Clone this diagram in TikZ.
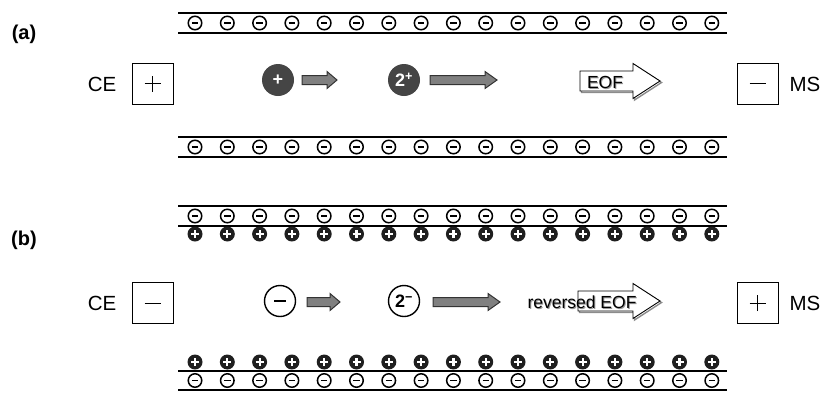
\documentclass[tikz,border=0pt]{standalone}
\usepackage{fontspec}
\setmainfont{Liberation Sans}
\usetikzlibrary{positioning}
\definecolor{iondark}{HTML}{454545}
\definecolor{arrowgray}{HTML}{808080}
% fat arrow: style, x start, x tip, y, shaft half, head half, head length
\newcommand{\fatarrow}[7]{%
  \draw[#1] (#2,#4-#5) -- (#3-#7,#4-#5) -- (#3-#7,#4-#6) -- (#3,#4)
    -- (#3-#7,#4+#6) -- (#3-#7,#4+#5) -- (#2,#4+#5) -- cycle;}
\tikzset{
  wall/.style={line width=2pt},
  negw/.style={circle, draw, line width=1.5pt, fill=white, minimum size=13.5pt, inner sep=0pt,
    path picture={\draw[line width=1.8pt] ([xshift=-3.2pt]path picture bounding box.center)
      -- ([xshift=3.2pt]path picture bounding box.center);}},
  posw/.style={circle, fill=black!88, minimum size=15pt, inner sep=0pt,
    path picture={\draw[white, line width=2.2pt]
      ([xshift=-4pt]path picture bounding box.center) -- ([xshift=4pt]path picture bounding box.center)
      ([yshift=-4pt]path picture bounding box.center) -- ([yshift=4pt]path picture bounding box.center);}},
  electrode/.style={draw, line width=0.9pt, minimum size=41pt, inner sep=0pt},
  elplus/.style={electrode, path picture={\draw[line width=1pt]
      ([xshift=-8pt]path picture bounding box.center) -- ([xshift=8pt]path picture bounding box.center)
      ([yshift=-8pt]path picture bounding box.center) -- ([yshift=8pt]path picture bounding box.center);}},
  elminus/.style={electrode, path picture={\draw[line width=1pt]
      ([xshift=-8pt]path picture bounding box.center) -- ([xshift=8pt]path picture bounding box.center);}},
  lbl/.style={font=\fontsize{20.5}{24}\selectfont, inner sep=0pt},
  panel/.style={font=\bfseries\fontsize{20}{24}\selectfont, inner sep=0pt},
  cation/.style={circle, fill=iondark, text=white, font=\bfseries\fontsize{18}{20}\selectfont,
    minimum size=32pt, inner sep=0pt},
  anion/.style={circle, draw, line width=1.4pt, fill=white, font=\bfseries\fontsize{18}{20}\selectfont,
    minimum size=31pt, inner sep=0pt},
  anbar/.style={anion, path picture={\draw[line width=2.4pt]
      ([xshift=-6pt]path picture bounding box.center) -- ([xshift=6pt]path picture bounding box.center);}},
  ionarrow/.style={fill=arrowgray, draw=black!80, line width=1pt},
  eof/.style={fill=white, draw=black, line width=0.9pt},
  eofshadow/.style={draw=black!45, line width=1.4pt},
  eoftext/.style={font=\fontsize{17.5}{20}\selectfont, inner sep=0pt}
}
\begin{document}
\begin{tikzpicture}[x=1pt, y=-1pt]
\useasboundingbox (0,0) rectangle (826,392);
% (a) walls
\draw[wall] (178,13) -- (727,13) (178,33) -- (727,33);
\draw[wall] (178,137) -- (727,137) (178,157) -- (727,157);
\foreach \i in {0,...,16} {
  \node[negw] (at\i) at (195+32.3*\i,23) {};
  \node[negw] (ab\i) at (195+32.3*\i,147) {};
}
\node[panel] (pa) at (24,34) {(a)};
\node[lbl] (cea) at (102,84) {CE};
\node[elplus] (ela) at (152.5,83.5) {};
\node[lbl] (msa) at (805,84) {MS};
\node[elminus] (era) at (757.5,83.5) {};
\node[cation] (ca1) at (278,80) {+};
\fatarrow{ionarrow}{302}{337}{80}{4.5}{8.5}{10}
\node[cation] (ca2) at (404,80) {2\textsuperscript{+}};
\fatarrow{ionarrow}{430}{497}{80}{4.5}{8.5}{12}
\fatarrow{eofshadow}{581.5}{661.5}{82.5}{10}{17.5}{27}
\fatarrow{eof}{580}{660}{81}{10}{17.5}{27}
\node[eoftext, text=black!40] at (606,83) {EOF};
\node[eoftext] (eofa) at (605,82) {EOF};
% (b) walls
\draw[wall] (178,206) -- (727,206) (178,226) -- (727,226);
\draw[wall] (178,371) -- (727,371) (178,390) -- (727,390);
\foreach \i in {0,...,16} {
  \node[negw] (bt\i) at (195+32.3*\i,216) {};
  \node[posw] (btp\i) at (195+32.3*\i,234) {};
  \node[posw] (bbp\i) at (195+32.3*\i,362) {};
  \node[negw] (bb\i) at (195+32.3*\i,380.5) {};
}
\node[panel] (pb) at (24,240) {(b)};
\node[lbl] (ceb) at (102,303) {CE};
\node[elminus] (elb) at (152.5,303) {};
\node[lbl] (msb) at (805,303) {MS};
\node[elplus] (erb) at (757.5,303) {};
\node[anbar] (an1) at (280,301) {};
\fatarrow{ionarrow}{307}{340}{302}{4.5}{8.5}{10}
\node[anion] (an2) at (404,301) {2\textsuperscript{−}};
\fatarrow{ionarrow}{433}{500}{302}{4.5}{8.5}{12}
\fatarrow{eofshadow}{579.5}{661.5}{302.5}{10}{17.5}{27}
\fatarrow{eof}{578}{660}{301}{10}{17.5}{27}
\node[eoftext, text=black!40] at (583,303) {reversed EOF};
\node[eoftext] (eofb) at (582,302) {reversed EOF};
\end{tikzpicture}
\end{document}
